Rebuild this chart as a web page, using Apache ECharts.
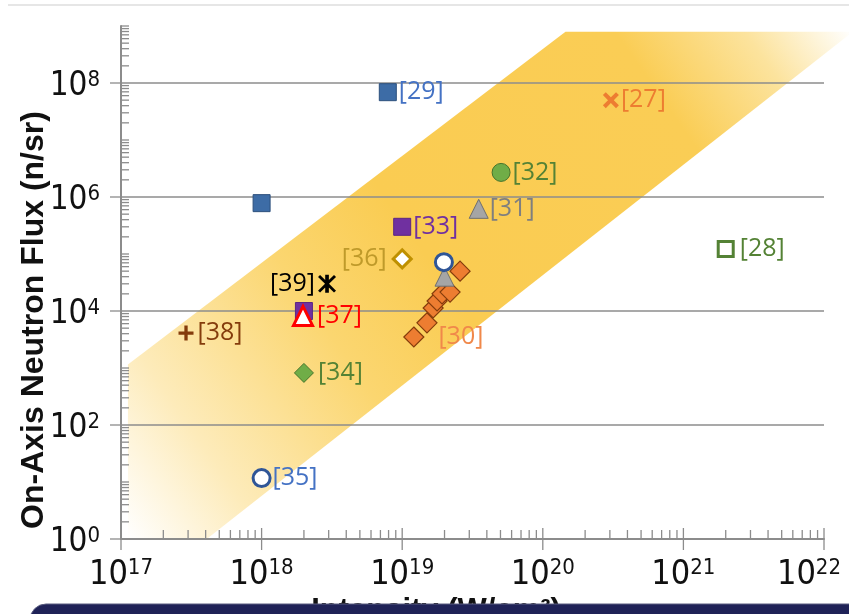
<!DOCTYPE html>
<html>
<head>
<meta charset="utf-8">
<script src="https://cdn.jsdelivr.net/npm/echarts@6/dist/echarts.min.js"></script>
<style>
  html, body { margin: 0; padding: 0; background: #ffffff; }
  #chart { width: 849px; height: 614px; }
</style>
</head>
<body>
<div id="chart"></div>
<script>
// ---- axis ticks ----
const xMajorTicks = [1e17, 1e18, 1e19, 1e20, 1e21, 1e22];
const yMajorTicks = [1, 1e2, 1e4, 1e6, 1e8];
const minorSteps = [2, 3, 4, 5, 6, 7, 8, 9, 10];

// ---- shaded trend band (corners: intensity, flux) ----
const bandIntensity = [1.12e17, 4.07e17, 1.6e22, 1.45e20, 1.12e17];
const bandFlux = [1, 1, 7.9e8, 7.9e8, 1.15e3];

// ---- measurements, one pair of arrays per reference ----
const x27 = [3.05e20], y27 = [5.0e7];
const x28 = [2.0e21], y28 = [1.23e5];
const x29 = [1.0e18, 7.9e18], y29 = [7.8e5, 6.9e7];
const x30 = [1.21e19, 1.5e19, 1.66e19, 1.77e19, 1.92e19, 2.19e19, 2.58e19];
const y30 = [3.5e3, 6.2e3, 1.13e4, 1.5e4, 2.0e4, 2.15e4, 5.0e4];
const x31 = [2.0e19, 3.5e19], y31 = [4.0e4, 6.2e5];
const x32 = [5.05e19], y32 = [2.7e6];
const x33 = [2.0e18, 1.0e19], y33 = [1.0e4, 3.0e5];
const x34 = [2.0e18], y34 = [8.2e2];
const x35 = [1.0e18, 1.98e19], y35 = [11.7, 7.2e4];
const x36 = [1.0e19], y36 = [8.2e4];
const x37 = [1.97e18], y37 = [8.2e3];
const x38 = [2.9e17], y38 = [4.1e3];
const x39 = [2.92e18], y39 = [3.0e4];

const LABEL_FONT = '"Open Sans", "Noto Sans", sans-serif';
const TICK_FONT = '"Liberation Sans Narrow", "DejaVu Sans Condensed", "Liberation Sans", sans-serif';
const AXIS_GRAY = '#8c8c8c';

// filled marker outlines
const CROSS = 'path://M1.8,0L5,3.2L8.2,0L10,1.8L6.8,5L10,8.2L8.2,10L5,6.8L1.8,10L0,8.2L3.2,5L0,1.8Z';
const PLUS = 'path://M3.9,0H6.1V3.9H10V6.1H6.1V10H3.9V6.1H0V3.9H3.9Z';
const STAR = 'path://M4,0H6V10H4Z M1.2,0.1L5,3.9L8.8,0.1L9.9,1.2L6.1,5L9.9,8.8L8.8,9.9L5,6.1L1.2,9.9L0.1,8.8L3.9,5L0.1,1.2Z';

function pts(xs, ys, labelAt) {
  return xs.map((x, i) => ({ value: [x, ys[i]], label: { show: i === labelAt } }));
}

function scatter(name, xs, ys, labelAt, symbol, size, style, labelColor, pos, dist) {
  return {
    type: 'scatter',
    name: name,
    data: pts(xs, ys, labelAt),
    symbol: symbol,
    symbolSize: size,
    itemStyle: Object.assign({ opacity: 1 }, style),
    label: {
      show: false,
      formatter: '{a}',
      position: pos || 'right',
      distance: dist == null ? 2 : dist,
      color: labelColor,
      fontSize: 25,
      fontFamily: LABEL_FONT
    },
    silent: true,
    z: 5
  };
}

// tick / grid items: [x, y, kind]
// kind 0: y major tick, 1: y minor tick, 2: x major tick, 3: x minor tick, 4: horizontal grid line
const xMin = xMajorTicks[0], xMax = xMajorTicks[xMajorTicks.length - 1];
const yMin = yMajorTicks[0];
const tickItems = [];
yMajorTicks.forEach(v => {
  tickItems.push([xMin, v, 0]);
  if (v > yMin) tickItems.push([xMin, v, 4]);
});
for (let d = 0; d < 9; d++) {
  const dec = Math.pow(10, d);
  minorSteps.forEach(m => {
    const v = m * dec;
    if (yMajorTicks.indexOf(v) < 0) tickItems.push([xMin, v, 1]);
  });
}
xMajorTicks.forEach(v => tickItems.push([v, yMin, 2]));
for (let i = 0; i < xMajorTicks.length - 1; i++) {
  minorSteps.slice(0, 8).forEach(m => tickItems.push([m * xMajorTicks[i], yMin, 3]));
}

function tickRender(params, api) {
  const x = api.value(0), y = api.value(1), kind = api.value(2);
  const p = api.coord([x, y]);
  let shape;
  if (kind === 0) shape = { x1: p[0] - 11, y1: p[1], x2: p[0], y2: p[1] };
  else if (kind === 1) shape = { x1: p[0], y1: p[1], x2: p[0] + 8, y2: p[1] };
  else if (kind === 2) shape = { x1: p[0], y1: p[1] - 11, x2: p[0], y2: p[1] + 11 };
  else if (kind === 3) shape = { x1: p[0], y1: p[1] - 9, x2: p[0], y2: p[1] };
  else {
    const q = api.coord([xMax, y]);
    shape = { x1: p[0], y1: p[1], x2: q[0], y2: q[1] };
  }
  return {
    type: 'line',
    shape: shape,
    style: { stroke: AXIS_GRAY, lineWidth: kind === 4 ? 1.6 : 1.3 }
  };
}

function bandRender(params, api) {
  if (params.dataIndex !== 0) return null;
  const points = bandIntensity.map((x, i) => api.coord([x, bandFlux[i]]));
  return {
    type: 'polygon',
    shape: { points: points },
    style: {
      fill: new echarts.graphic.LinearGradient(0, 1, 1, 0, [
        { offset: 0, color: '#ffffff' },
        { offset: 0.13, color: '#fdebba' },
        { offset: 0.32, color: '#fbd670' },
        { offset: 0.46, color: '#facc52' },
        { offset: 0.78, color: '#facd55' },
        { offset: 0.9, color: '#fce39d' },
        { offset: 1, color: '#ffffff' }
      ])
    }
  };
}

function expLabel(v) {
  const e = Math.round(Math.log10(v));
  // the last label is nudged inward so it stays inside the canvas
  const tail = (Math.pow(10, e) === xMax) ? '{p|}' : '';
  return '{b|10}{s|' + e + '}' + tail;
}

const chart = echarts.init(document.getElementById('chart'), null, { renderer: 'canvas' });

chart.setOption({
  animation: false,
  backgroundColor: '#ffffff',
  grid: { left: 121, right: 25, top: 26, bottom: 75, containLabel: false, outerBoundsMode: 'none' },
  xAxis: {
    type: 'log',
    logBase: 10,
    min: xMin,
    max: xMax,
    z: 6,
    axisLine: { show: true, lineStyle: { color: AXIS_GRAY, width: 2 } },
    axisTick: { show: false },
    splitLine: { show: false },
    minorTick: { show: false },
    axisLabel: {
      margin: 18,
      formatter: v => xMajorTicks.indexOf(Math.pow(10, Math.round(Math.log10(v)))) >= 0 ? expLabel(v) : '',
      rich: {
        b: { fontSize: 34, fontFamily: TICK_FONT, color: '#111', lineHeight: 36 },
        s: { fontSize: 22, fontFamily: TICK_FONT, color: '#111', verticalAlign: 'top', lineHeight: 22 },
        p: { width: 30 }
      }
    }
  },
  yAxis: {
    type: 'log',
    logBase: 10,
    min: yMin,
    max: 1e9,
    z: 6,
    axisLine: { show: true, lineStyle: { color: AXIS_GRAY, width: 2 } },
    axisTick: { show: false },
    splitLine: { show: false },
    minorTick: { show: false },
    axisLabel: {
      margin: 21,
      padding: [7, 0, 0, 0],
      formatter: v => {
        const e = Math.round(Math.log10(v));
        return yMajorTicks.indexOf(Math.pow(10, e)) >= 0 ? '{b|10}{s|' + e + '}' : '';
      },
      rich: {
        b: { fontSize: 33, fontFamily: TICK_FONT, color: '#111', lineHeight: 34 },
        s: { fontSize: 22, fontFamily: TICK_FONT, color: '#111', verticalAlign: 'top', lineHeight: 22 }
      }
    }
  },
  graphic: [
    { type: 'line', shape: { x1: 8, y1: 5, x2: 849, y2: 5 }, style: { stroke: '#dedede', lineWidth: 1.5 }, z: 1 },
    {
      type: 'text', x: 34, y: 320, rotation: Math.PI / 2, z: 10,
      style: { text: 'On-Axis Neutron Flux (n/sr)', font: 'bold 32px "Liberation Sans", Arial, sans-serif', fill: '#111', align: 'center', verticalAlign: 'middle' }
    },
    {
      type: 'text', x: 436, y: 611, z: 10,
      style: { text: 'Intensity (W/cm²)', font: 'bold 31px "Liberation Sans", Arial, sans-serif', fill: '#111', align: 'center', verticalAlign: 'middle' }
    },
    { type: 'rect', shape: { x: 30, y: 604, width: 840, height: 30, r: [16, 0, 0, 0] }, style: { fill: '#1f2257', stroke: '#5a5d80', lineWidth: 1 }, z: 20 }
  ],
  series: [
    {
      type: 'custom', name: 'band', silent: true, z: 1,
      data: bandIntensity.map((x, i) => [x, bandFlux[i]]),
      renderItem: bandRender
    },
    {
      type: 'custom', name: 'ticks', silent: true, z: 2,
      data: tickItems,
      renderItem: tickRender
    },
    scatter('[30]', x30, y30, 0, 'diamond', 20, { color: '#ed7d31', borderColor: '#843c0c', borderWidth: 1.2 }, '#f0884a', 'right', 14),
    scatter('[31]', x31, y31, 1, 'triangle', 19, { color: '#a5a5a5', borderColor: '#6f6f6f', borderWidth: 1 }, '#7f7f7f', 'right', 1),
    scatter('[29]', x29, y29, 1, 'rect', 17, { color: '#3d6ca6', borderColor: '#2c4f7c', borderWidth: 1 }, '#4472c4', 'right', 2),
    scatter('[32]', x32, y32, 0, 'circle', 18, { color: '#70ad47', borderColor: '#46742c', borderWidth: 1 }, '#548235', 'right', 2),
    scatter('[33]', x33, y33, 1, 'rect', 17, { color: '#7030a0', borderColor: '#5b2583', borderWidth: 1 }, '#7030a0', 'right', 2),
    scatter('[28]', x28, y28, 0, 'rect', 15, { color: '#ffffff', borderColor: '#548235', borderWidth: 3 }, '#548235', 'right', 5),
    scatter('[27]', x27, y27, 0, CROSS, 16, { color: '#ed7d31' }, '#ed7d31', 'right', 2),
    scatter('[34]', x34, y34, 0, 'diamond', 19, { color: '#70ad47', borderColor: '#46742c', borderWidth: 1 }, '#548235', 'right', 4),
    scatter('[36]', x36, y36, 0, 'diamond', 18, { color: '#ffffff', borderColor: '#bf9000', borderWidth: 3 }, '#bf9a2a', 'left', 5),
    scatter('[37]', x37, y37, 0, 'triangle', 19, { color: '#ffffff', borderColor: '#ff0000', borderWidth: 3 }, '#ff0000', 'right', 3),
    scatter('[38]', x38, y38, 0, PLUS, 15, { color: '#843c0c' }, '#843c0c', 'right', 4),
    scatter('[39]', x39, y39, 0, STAR, 18, { color: '#000000' }, '#000000', 'left', 3),
    scatter('[35]', x35, y35, 0, 'circle', 17, { color: '#ffffff', borderColor: '#2f5597', borderWidth: 3 }, '#4472c4', 'right', 1)
  ]
});
</script>
</body>
</html>
